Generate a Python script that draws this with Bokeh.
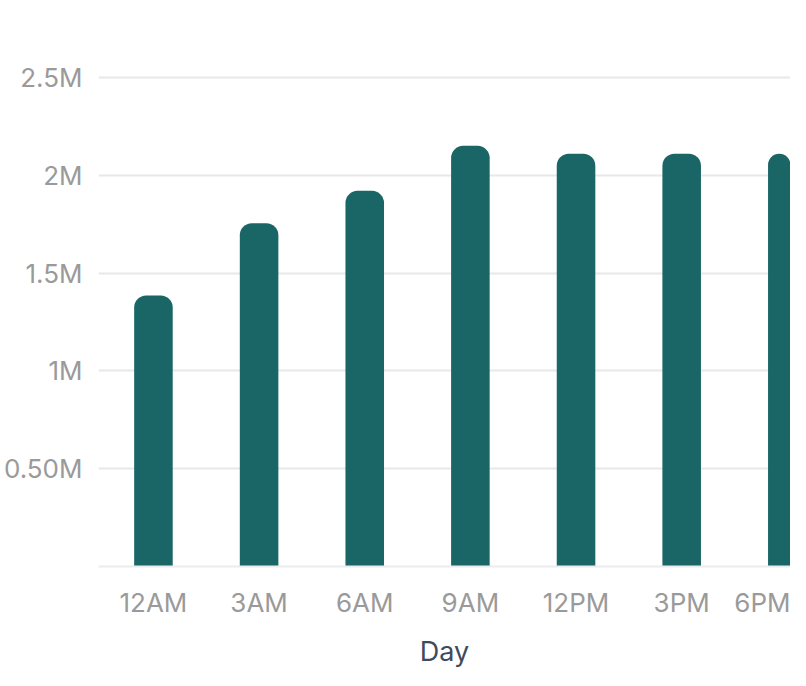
from bokeh.plotting import figure
from bokeh.models import Range1d, FixedTicker, ColumnDataSource
from bokeh.embed import file_html
from bokeh.resources import INLINE

# ---- data ----
categories = ["12AM", "3AM", "6AM", "9AM", "12PM", "3PM", "6PM"]
values = [1_385_000, 1_755_000, 1_920_000, 2_150_000, 2_110_000, 2_110_000, 2_110_000]
y_tick_values = [0, 500_000, 1_000_000, 1_500_000, 2_000_000, 2_500_000]
y_tick_labels = ["", "0.50M", "1M", "1.5M", "2M", "2.5M"]
x_axis_title = "Day"

BAR_COLOR = "#1a6667"
GRID_COLOR = "#e8e8e8"
TICK_COLOR = "#9a9a9a"
TITLE_COLOR = "#3e4a5e"
FONT = "Inter"

xs = list(range(len(categories)))
source = ColumnDataSource(dict(x=xs, top=values, label=categories))

p = figure(
    width=790, height=670,
    output_backend="svg", toolbar_location=None,
    x_range=Range1d(-0.52, 6.03),
    y_range=Range1d(0, 2_525_000),
    min_border_top=72, min_border_right=0, min_border_left=60, min_border_bottom=0,
    outline_line_color=None,
)

p.vbar(x="x", top="top", bottom=0, width=0.365, source=source,
       fill_color=BAR_COLOR, line_color=None, border_radius=(12, 12, 0, 0))

# y axis
p.yaxis.ticker = FixedTicker(ticks=y_tick_values)
p.yaxis.major_label_overrides = {v: l for v, l in zip(y_tick_values, y_tick_labels)}
p.yaxis.axis_line_color = None
p.yaxis.major_tick_line_color = None
p.yaxis.minor_tick_line_color = None
p.yaxis.major_tick_out = 0
p.yaxis.major_tick_in = 0
p.yaxis.major_label_text_font = FONT
p.yaxis.major_label_text_font_size = "26px"
p.yaxis.major_label_text_color = TICK_COLOR
p.yaxis.major_label_standoff = 16

# x axis
p.xaxis.ticker = FixedTicker(ticks=xs)
p.xaxis.major_label_overrides = {i: c for i, c in zip(xs, categories)}
p.xaxis.axis_line_color = "#ebebf0"
p.xaxis.axis_line_width = 2
p.xaxis.major_tick_line_color = None
p.xaxis.minor_tick_line_color = None
p.xaxis.major_tick_out = 0
p.xaxis.major_tick_in = 0
p.xaxis.major_label_text_font = FONT
p.xaxis.major_label_text_font_size = "26px"
p.xaxis.major_label_text_color = TICK_COLOR
p.xaxis.major_label_standoff = 20
p.xaxis.axis_label = x_axis_title
p.xaxis.axis_label_text_font = FONT
p.xaxis.axis_label_text_font_size = "27px"
p.xaxis.axis_label_text_font_style = "normal"
p.xaxis.axis_label_text_color = TITLE_COLOR
p.xaxis.axis_label_standoff = 14

p.xgrid.grid_line_color = None
p.ygrid.grid_line_color = GRID_COLOR
p.ygrid.grid_line_width = 2

open("out.html", "w").write(file_html(p, INLINE))
